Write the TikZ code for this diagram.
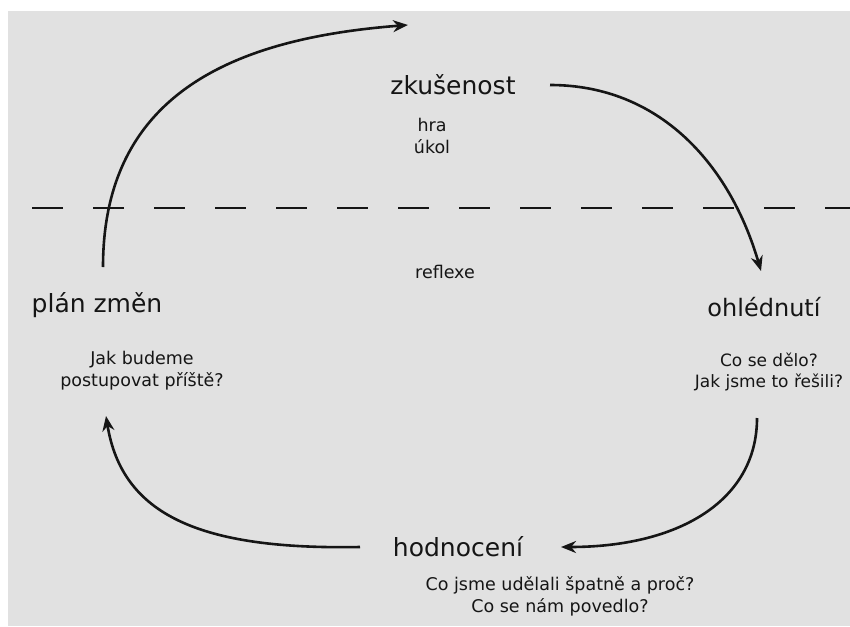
\documentclass[tikz,border=0pt]{standalone}
\usepackage{fontspec}
\setmainfont{DejaVu Sans}
\usetikzlibrary{arrows.meta}
\definecolor{paper}{HTML}{E1E1E1}
\definecolor{ink}{HTML}{151515}
\tikzset{
  big/.style={inner sep=0pt, text=ink, font=\fontsize{25}{30}\selectfont},
  small/.style={inner sep=0pt, text=ink, align=center, font=\fontsize{17.5}{22}\selectfont},
  flow/.style={draw=ink, line width=2.6pt, -{Stealth[length=15pt,width=12pt]}},
  divider/.style={draw=ink, line width=2.6pt, dash pattern=on 31pt off 30pt}
}
\begin{document}
\begin{tikzpicture}[x=1pt,y=-1pt]
\useasboundingbox (0,0) rectangle (850,626);
\fill[white] (0,0) rectangle (850,626);
\fill[paper] (8,11) rectangle (850,626);

% dashed divider
\coordinate (dL) at (32,208);
\coordinate (dR) at (850,208);
\draw[divider] (dL) -- (dR);

% labels
\node[big] (zk) at (453,85) {zkušenost};
\node[small] (zkq) at (432,136) {hra\\úkol};
\node[small] (refl) at (445,272) {reflexe};
\node[big] (plan) at (97,305) {plán změn};
\node[small] (planq) at (142,371) {Jak budeme\\postupovat příště?};
\node[big, font=\fontsize{24}{30}\selectfont] (ohl) at (764,307) {ohlédnutí};
\node[small, font=\fontsize{17}{21.5}\selectfont] (ohlq) at (769,372) {Co se dělo?\\Jak jsme to řešili?};
\node[big] (hod) at (458,547) {hodnocení};
\node[small] (hodq) at (560,596) {Co jsme udělali špatně a proč?\\Co se nám povedlo?};

% arrow end points
\coordinate (p1s) at (103,267);
\coordinate (p1e) at (408,25);
\coordinate (p2s) at (550,85);
\coordinate (p2e) at (761,271);
\coordinate (p3s) at (757,418);
\coordinate (p3e) at (561,547);
\coordinate (p4s) at (360,547);
\coordinate (p4e) at (106,416);

\draw[flow] (p1s) .. controls (103,90) and (240,38) .. (p1e);
\draw[flow] (p2s) .. controls (660,85) and (730,165) .. (p2e);
\draw[flow] (p3s) .. controls (757,500) and (680,547) .. (p3e);
\draw[flow] (p4s) .. controls (200,550) and (122,515) .. (p4e);
\end{tikzpicture}
\end{document}
